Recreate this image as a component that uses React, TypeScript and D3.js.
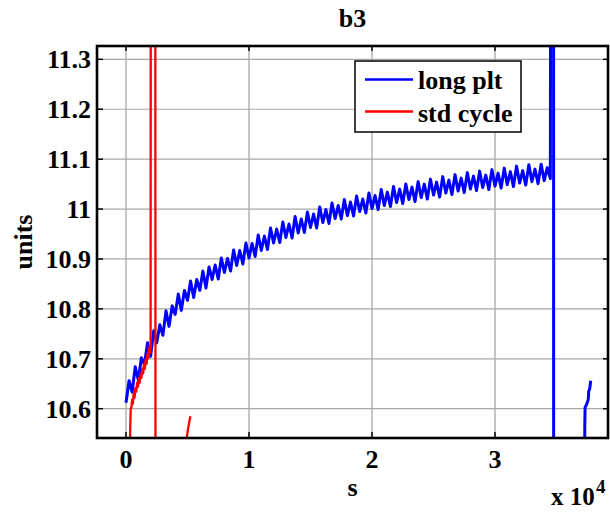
import React from "react";
import * as d3 from "d3";

// ---- data ----
const title = "b3";
const xLabel = "s";
const yLabel = "units";
const xTicks = [0, 10000, 20000, 30000];
const xTickLabels = ["0", "1", "2", "3"];
const yTicks = [10.6, 10.7, 10.8, 10.9, 11.0, 11.1, 11.2, 11.3];
const yTickLabels = ["10.6", "10.7", "10.8", "10.9", "11", "11.1", "11.2", "11.3"];
const xDomain = [-2358, 39187];
const yDomain = [10.5413, 11.3267];

// long plt: sampled every 250 s from 0 s
const longPltStep = 250;
const longPltMain = [
  10.612, 10.656, 10.633, 10.684, 10.657, 10.702, 10.689, 10.732, 10.705, 10.756,
  10.732, 10.768, 10.747, 10.796, 10.765, 10.806, 10.789, 10.830, 10.797, 10.837,
  10.817, 10.856, 10.823, 10.859, 10.837, 10.876, 10.842, 10.884, 10.859, 10.888,
  10.860, 10.902, 10.873, 10.901, 10.876, 10.918, 10.887, 10.917, 10.890, 10.932,
  10.902, 10.931, 10.905, 10.948, 10.917, 10.946, 10.919, 10.962, 10.932, 10.960,
  10.933, 10.974, 10.943, 10.970, 10.942, 10.985, 10.952, 10.980, 10.953, 10.994,
  10.963, 10.990, 10.962, 11.004, 10.973, 10.999, 10.971, 11.012, 10.981, 11.007,
  10.980, 11.019, 10.987, 11.014, 10.986, 11.026, 10.995, 11.020, 10.992, 11.032,
  11.001, 11.027, 10.999, 11.039, 11.007, 11.034, 11.005, 11.045, 11.013, 11.040,
  11.011, 11.050, 11.019, 11.044, 11.015, 11.055, 11.023, 11.050, 11.020, 11.060,
  11.028, 11.054, 11.024, 11.065, 11.032, 11.058, 11.029, 11.069, 11.036, 11.062,
  11.033, 11.073, 11.040, 11.066, 11.037, 11.076, 11.043, 11.068, 11.039, 11.079,
  11.046, 11.072, 11.042, 11.082, 11.049, 11.075, 11.045, 11.086, 11.052, 11.077,
  11.048, 11.089, 11.055, 11.080, 11.051, 11.090, 11.057, 11.083, 11.061,
];
const longPltTailX = [34540, 34760, 34770, 37270, 37300, 37325, 37420, 37580, 37620, 37700, 37780];
const longPltTailY = [11.8, 11.8, 10.3, 10.3, 10.567, 10.603, 10.607, 10.618, 10.635, 10.640, 10.656];

// std cycle
const stdCycleX = [
  300, 340, 380, 440, 500, 560, 620, 700, 760, 840, 900, 980, 1040, 1120, 1180, 1260,
  1320, 1400, 1460, 1540, 1600, 1680, 1740, 1820, 1880, 1960, 2000, 2020, 2380, 2400,
  4900, 4960, 5060, 5150, 5230,
];
const stdCycleY = [
  10.45, 10.56, 10.598, 10.604, 10.618, 10.610, 10.630, 10.622, 10.641, 10.634, 10.652,
  10.644, 10.661, 10.652, 10.670, 10.662, 10.680, 10.671, 10.690, 10.680, 10.699, 10.690,
  10.710, 10.701, 10.722, 10.712, 10.725, 11.8, 11.8, 10.3, 10.3, 10.545, 10.562, 10.574,
  10.585,
];

const seriesNames = ["long plt", "std cycle"];
const seriesColors = ["#0000ff", "#ff0000"];

// ---- layout ----
const W = 610;
const H = 512;
const left = 97;
const right = 608;
const top = 46;
const bottom = 438;
const font = "'Liberation Serif', 'Times New Roman', serif";
const fs = 26;

export default function App() {
  const x = d3.scaleLinear().domain(xDomain).range([left, right]);
  const y = d3.scaleLinear().domain(yDomain).range([bottom, top]);

  const bluePts: [number, number][] = longPltMain.map((v, i) => [i * longPltStep, v] as [number, number]);
  longPltTailX.forEach((t, i) => bluePts.push([t, longPltTailY[i]]));
  const redPts: [number, number][] = stdCycleX.map((t, i) => [t, stdCycleY[i]] as [number, number]);

  const line = d3
    .line<[number, number]>()
    .x((d) => x(d[0]))
    .y((d) => y(d[1]));

  return (
    <svg width={W} height={H} style={{ position: "absolute", left: 0, top: 0, background: "#fff" }}>
      <defs>
        <clipPath id="plotclip">
          <rect x={left} y={top} width={right - left} height={bottom - top} />
        </clipPath>
      </defs>
      <rect x={0} y={0} width={W} height={H} fill="#fff" />
      {/* grid */}
      {xTicks.map((t) => (
        <line key={"gx" + t} x1={x(t)} x2={x(t)} y1={top} y2={bottom} stroke="#8c8c8c" strokeWidth={1} />
      ))}
      {yTicks.map((t) => (
        <line key={"gy" + t} x1={left} x2={right} y1={y(t)} y2={y(t)} stroke="#a8a8a8" strokeWidth={1.2} />
      ))}
      {/* data */}
      <g clipPath="url(#plotclip)">
        <path d={line(bluePts) || ""} fill="none" stroke={seriesColors[0]} strokeWidth={3} strokeLinejoin="round" />
        <path d={line(redPts) || ""} fill="none" stroke={seriesColors[1]} strokeWidth={2.3} strokeLinejoin="round" />
      </g>
      {/* ticks */}
      {xTicks.map((t) => (
        <g key={"tx" + t}>
          <line x1={x(t)} x2={x(t)} y1={bottom} y2={bottom - 6} stroke="#000" strokeWidth={1.5} />
          <line x1={x(t)} x2={x(t)} y1={top} y2={top + 5} stroke="#000" strokeWidth={1.5} />
        </g>
      ))}
      {yTicks.map((t) => (
        <g key={"ty" + t}>
          <line x1={left} x2={left + 6} y1={y(t)} y2={y(t)} stroke="#000" strokeWidth={1.5} />
          <line x1={right} x2={right - 5} y1={y(t)} y2={y(t)} stroke="#000" strokeWidth={1.5} />
        </g>
      ))}
      {/* box */}
      <rect x={left} y={top} width={right - left} height={bottom - top} fill="none" stroke="#000" strokeWidth={2.6} />
      {/* tick labels */}
      {xTicks.map((t, i) => (
        <text key={"lx" + t} x={x(t)} y={468} textAnchor="middle" fontFamily={font} fontWeight="bold" fontSize={fs}>
          {xTickLabels[i]}
        </text>
      ))}
      {yTicks.map((t, i) => (
        <text key={"ly" + t} x={91} y={y(t) + 9} textAnchor="end" fontFamily={font} fontWeight="bold" fontSize={fs}>
          {yTickLabels[i]}
        </text>
      ))}
      {/* exponent */}
      <text x={551} y={505} fontFamily={font} fontWeight="bold" fontSize={25}>
        x 10
      </text>
      <text x={596} y={493} fontFamily={font} fontWeight="bold" fontSize={19}>
        4
      </text>
      {/* labels */}
      <text x={(left + right) / 2} y={27} textAnchor="middle" fontFamily={font} fontWeight="bold" fontSize={fs}>
        {title}
      </text>
      <text x={(left + right) / 2} y={496} textAnchor="middle" fontFamily={font} fontWeight="bold" fontSize={fs}>
        {xLabel}
      </text>
      <text
        transform={`translate(32, ${(top + bottom) / 2}) rotate(-90)`}
        textAnchor="middle"
        fontFamily={font}
        fontWeight="bold"
        fontSize={fs}
      >
        {yLabel}
      </text>
      {/* legend */}
      <rect x={355} y={61} width={166} height={71} fill="#fff" stroke="#000" strokeWidth={1.5} />
      {seriesNames.map((n, i) => (
        <g key={n}>
          <line x1={365} x2={413} y1={79.5 + i * 32} y2={79.5 + i * 32} stroke={seriesColors[i]} strokeWidth={2.5} />
          <text x={418} y={88.5 + i * 33} fontFamily={font} fontWeight="bold" fontSize={fs}>
            {n}
          </text>
        </g>
      ))}
    </svg>
  );
}
